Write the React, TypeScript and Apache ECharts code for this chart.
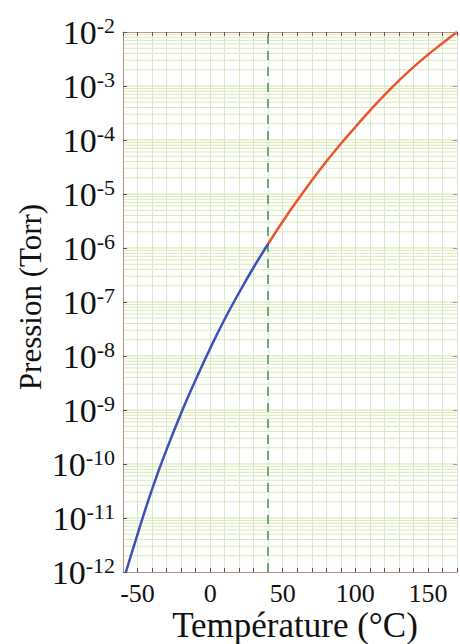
import React, { useEffect, useRef } from "react";
import * as echarts from "echarts";

// Blue branch (below the transition temperature)
const temperaturesLow = [-58, -50, -40, -30, -20, -10, 0, 10, 20, 30, 40];
const pressuresLow = [1.0e-12, 5.0e-12, 3.4e-11, 1.85e-10, 8.7e-10, 3.6e-9, 1.38e-8, 4.8e-8, 1.5e-7, 4.4e-7, 1.2e-6];
// Red branch (above the transition temperature)
const temperaturesHigh = [40, 50, 60, 70, 80, 90, 100, 110, 120, 130, 140, 150, 160, 170];
const pressuresHigh = [1.2e-6, 3.1e-6, 7.6e-6, 1.78e-5, 4.0e-5, 8.5e-5, 1.74e-4, 3.5e-4, 6.8e-4, 1.26e-3, 2.24e-3, 3.8e-3, 6.2e-3, 1.0e-2];

const xTickLabels = [-50, 0, 50, 100, 150];
const decadeExponents = [-12, -11, -10, -9, -8, -7, -6, -5, -4, -3, -2];
const minorMultipliers = [2, 3, 4, 5, 6, 7, 8, 9];
const transitionTemperature = 40;
const xMin = -60;
const xMax = 170;

const xTitle = "Température (°C)";
const yTitle = "Pression (Torr)";

const FONT = "'Liberation Serif', 'Times New Roman', serif";

export default function App() {
  const ref = useRef<HTMLDivElement>(null);

  useEffect(() => {
    if (!ref.current) return;
    const chart = echarts.init(ref.current, null, { renderer: "svg" });

    const gridValues: { v: number; major: boolean }[] = [];
    decadeExponents.forEach((e, i) => {
      if (i > 0 && i < decadeExponents.length - 1) gridValues.push({ v: Math.pow(10, e), major: true });
      if (i < decadeExponents.length - 1) {
        minorMultipliers.forEach((m) => gridValues.push({ v: m * Math.pow(10, e), major: false }));
      }
    });

    const gridSeries = gridValues.map((g) => ({
      type: "line",
      data: [
        [xMin, g.v],
        [xMax, g.v],
      ],
      symbol: "none",
      showSymbol: false,
      silent: true,
      z: 2,
      lineStyle: { color: g.major ? "#d2e4a0" : "#dbe9b6", width: 1 },
    }));

    const option: any = {
      animation: false,
      backgroundColor: "#ffffff",
      grid: { left: 123, right: 0, top: 32, bottom: 72, containLabel: false },
      xAxis: [
        {
          type: "value",
          min: xMin,
          max: xMax,
          interval: 10,
          axisLine: { show: true, onZero: false, lineStyle: { color: "#b98c8c", width: 1 } },
          axisTick: { show: true, inside: true, length: 4, lineStyle: { color: "#555" } },
          axisLabel: {
            margin: 8,
            color: "#111",
            fontFamily: FONT,
            fontSize: 26,
            formatter: (v: number) => (xTickLabels.includes(Math.round(v)) ? String(Math.round(v)) : ""),
          },
          splitLine: { show: true, lineStyle: { color: "#d9e8cc", width: 1 } },
          z: 3,
        },
        {
          type: "value",
          position: "top",
          min: xMin,
          max: xMax,
          interval: 10,
          axisLine: { show: true, onZero: false, lineStyle: { color: "#c98a8a", width: 1 } },
          axisTick: { show: true, inside: true, length: 4, lineStyle: { color: "#555" } },
          axisLabel: { show: false },
          splitLine: { show: false },
          z: 6,
        },
      ],
      yAxis: [
        {
          type: "log",
          logBase: 10,
          min: 1e-12,
          max: 1e-2,
          splitNumber: 10,
          axisLine: { show: true, onZero: false, lineStyle: { color: "#b98c8c", width: 1 } },
          axisTick: { show: true, inside: true, length: 4, lineStyle: { color: "#555" } },
          splitLine: { show: false },
          axisLabel: {
            margin: 8,
            color: "#111",
            formatter: (v: number) => {
              const e = Math.round(Math.log10(v));
              return `{b|10}{s|${e}}`;
            },
            rich: {
              b: { fontFamily: FONT, fontSize: 34, lineHeight: 40, color: "#111" },
              s: { fontFamily: FONT, fontSize: 22, lineHeight: 40, color: "#111", padding: [0, 0, 14, 0] },
            },
          },
          z: 6,
        },
        {
          type: "log",
          logBase: 10,
          min: 1e-12,
          max: 1e-2,
          splitNumber: 10,
          position: "right",
          axisLine: { show: true, onZero: false, lineStyle: { color: "#b98c8c", width: 1 } },
          axisTick: { show: true, inside: true, length: 4, lineStyle: { color: "#555" } },
          axisLabel: { show: false },
          splitLine: { show: false },
        },
      ],
      series: [
        ...gridSeries,
        {
          type: "line",
          name: "low",
          data: temperaturesLow.map((t, i) => [t, pressuresLow[i]]),
          showSymbol: false,
          smooth: 0.5,
          clip: true,
          lineStyle: { color: "#3d4fb8", width: 2.5 },
          z: 5,
          markLine: {
            silent: true,
            symbol: "none",
            label: { show: false },
            lineStyle: { color: "#6aaa7e", width: 2, type: [9, 7] },
            data: [{ xAxis: transitionTemperature }],
          },
        },
        {
          type: "line",
          name: "high",
          data: temperaturesHigh.map((t, i) => [t, pressuresHigh[i]]),
          showSymbol: false,
          smooth: 0.5,
          clip: true,
          lineStyle: { color: "#e8552f", width: 2.5 },
          z: 5,
        },
      ],
      graphic: [
        {
          type: "text",
          x: 30,
          y: 297,
          rotation: Math.PI / 2,
          style: {
            text: yTitle,
            fontFamily: FONT,
            fontSize: 31,
            fill: "#111",
            textAlign: "center",
            textVerticalAlign: "middle",
          },
        },
        {
          type: "text",
          x: 295,
          y: 625,
          style: {
            text: xTitle,
            fontFamily: FONT,
            fontSize: 35,
            fill: "#111",
            textAlign: "center",
            textVerticalAlign: "middle",
          },
        },
      ],
    };

    chart.setOption(option);
    return () => chart.dispose();
  }, []);

  return (
    <div
      ref={ref}
      style={{ position: "fixed", left: 0, top: 0, width: 460, height: 644, background: "#fff" }}
    />
  );
}
